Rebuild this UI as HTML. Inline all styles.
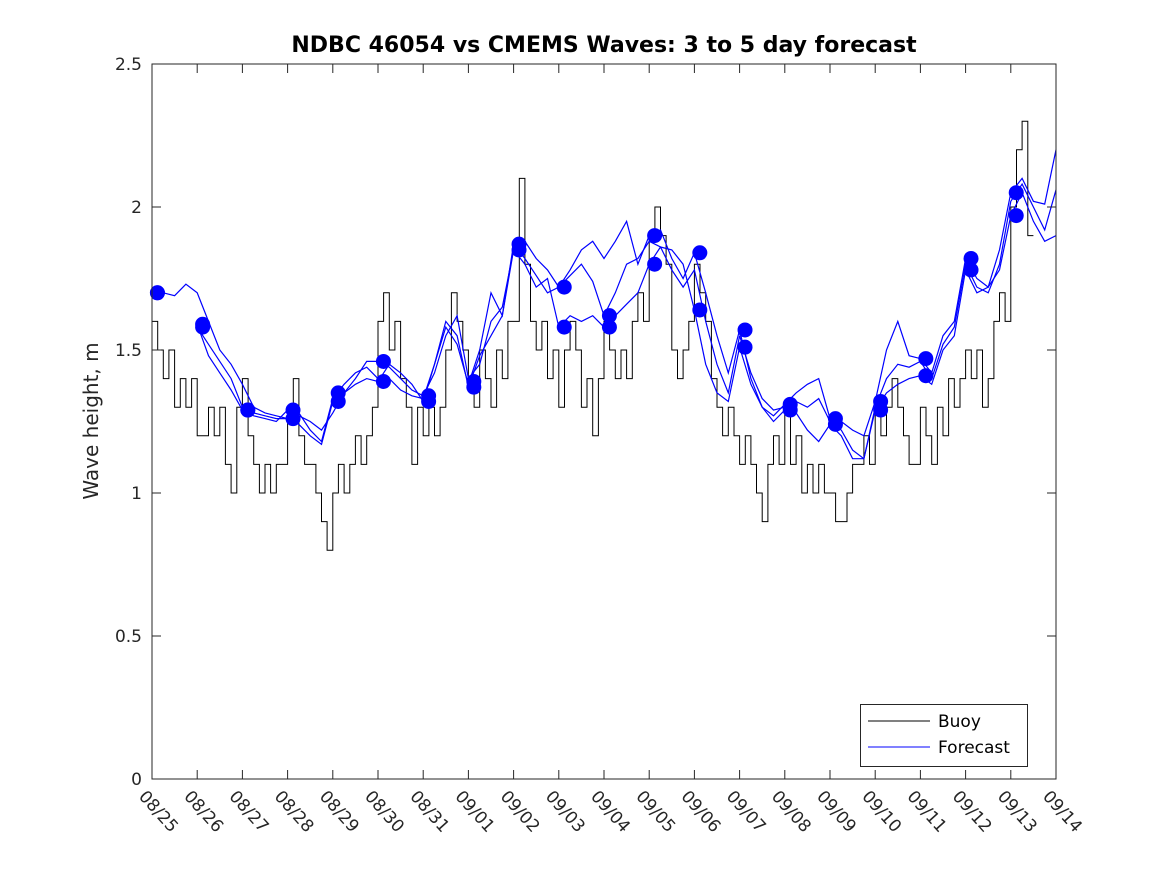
<!DOCTYPE html>
<html><head><meta charset="utf-8"><style>
body{margin:0;background:#fff;}
svg text{font-family:"DejaVu Sans","Liberation Sans",sans-serif;fill:#262626;}
</style></head><body>
<svg id="chart" width="1167" height="875" xmlns="http://www.w3.org/2000/svg">
<rect width="1167" height="875" fill="#fff"/>
<text x="604" y="52" text-anchor="middle" font-size="22" font-weight="bold" style="fill:#000">NDBC 46054 vs CMEMS Waves: 3 to 5 day forecast</text>
<text transform="translate(98,421) rotate(-90)" text-anchor="middle" font-size="20">Wave height, m</text>
<g id="plot"></g>
<rect x="152" y="64" width="904" height="715" fill="none" stroke="#262626" stroke-width="1"/>
<g>
<rect x="860.5" y="704.5" width="167" height="62" fill="#fff" stroke="#262626"/>
<line x1="868" y1="721" x2="930" y2="721" stroke="#000"/>
<text x="938" y="727" font-size="17" style="fill:#000">Buoy</text>
<line x1="868" y1="747" x2="930" y2="747" stroke="#00f"/>
<text x="938" y="753" font-size="17" style="fill:#000">Forecast</text>
</g>
</svg>
<script>
const xTickLabels=["08/25","08/26","08/27","08/28","08/29","08/30","08/31","09/01","09/02","09/03","09/04","09/05","09/06","09/07","09/08","09/09","09/10","09/11","09/12","09/13","09/14"];
const yTicks=[0,0.5,1,1.5,2,2.5];
const yTickLabels=["0","0.5","1","1.5","2","2.5"];
const buoyStep=0.125;
const buoy=[1.6,1.5,1.4,1.5,1.3,1.4,1.3,1.4,
1.2,1.2,1.3,1.2,1.3,1.1,1.0,1.3,
1.4,1.2,1.1,1.0,1.1,1.0,1.1,1.1,
1.3,1.4,1.2,1.1,1.1,1.0,0.9,0.8,
1.0,1.1,1.0,1.1,1.2,1.1,1.2,1.3,
1.6,1.7,1.5,1.6,1.4,1.3,1.1,1.3,
1.2,1.3,1.2,1.3,1.5,1.7,1.6,1.5,
1.4,1.3,1.5,1.4,1.3,1.5,1.4,1.6,
1.6,2.1,1.8,1.6,1.5,1.6,1.4,1.5,
1.3,1.5,1.6,1.5,1.3,1.4,1.2,1.4,
1.6,1.5,1.4,1.5,1.4,1.6,1.7,1.6,
1.9,2.0,1.9,1.8,1.5,1.4,1.5,1.6,
1.8,1.7,1.6,1.4,1.3,1.2,1.3,1.2,
1.1,1.2,1.1,1.0,0.9,1.1,1.2,1.1,
1.3,1.1,1.2,1.0,1.1,1.0,1.1,1.0,
1.0,0.9,0.9,1.0,1.1,1.1,1.2,1.1,
1.3,1.2,1.3,1.4,1.3,1.2,1.1,1.1,
1.3,1.2,1.1,1.3,1.2,1.4,1.3,1.4,
1.5,1.4,1.5,1.3,1.4,1.6,1.7,1.6,
2.0,2.2,2.3,1.9];
const fcStep=0.25;
const forecast1=[1.70,1.70,1.69,1.73,1.70,1.60,1.50,1.45,1.38,1.30,1.28,1.27,1.26,1.27,1.25,1.22,1.28,1.35,1.40,1.46,1.46,1.44,1.40,1.36,1.34,1.42,1.55,1.62,1.40,1.45,1.60,1.65,1.85,1.88,1.82,1.78,1.72,1.78,1.85,1.88,1.82,1.88,1.95,1.80,1.90,1.92,1.82,1.75,1.84,1.70,1.55,1.42,1.57,1.40,1.30,1.27,1.31,1.35,1.38,1.40,1.26,1.25,1.22,1.20,1.32,1.50,1.60,1.48,1.47,1.42,1.55,1.60,1.82,1.75,1.72,1.85,2.05,2.10,2.02,2.01,2.20];
const forecast2=[null,null,null,null,1.58,1.52,1.46,1.40,1.30,1.28,1.27,1.26,1.26,1.24,1.20,1.17,1.32,1.35,1.38,1.40,1.39,1.45,1.42,1.38,1.32,1.45,1.60,1.55,1.37,1.48,1.55,1.62,1.85,1.80,1.72,1.75,1.58,1.62,1.60,1.62,1.58,1.62,1.66,1.70,1.80,1.86,1.85,1.80,1.64,1.45,1.35,1.32,1.51,1.38,1.30,1.25,1.29,1.28,1.22,1.18,1.24,1.20,1.12,1.12,1.29,1.35,1.38,1.40,1.41,1.38,1.50,1.55,1.78,1.70,1.72,1.78,1.97,2.05,1.95,1.88,1.90];
const forecast3=[null,null,null,null,1.59,1.48,1.42,1.36,1.29,1.27,1.26,1.25,1.29,1.28,1.22,1.18,1.33,1.38,1.42,1.44,1.40,1.40,1.36,1.34,1.33,1.45,1.58,1.52,1.38,1.50,1.70,1.62,1.87,1.82,1.76,1.70,1.72,1.76,1.80,1.74,1.62,1.70,1.80,1.82,1.88,1.86,1.78,1.72,1.78,1.60,1.45,1.35,1.55,1.42,1.33,1.29,1.30,1.32,1.30,1.33,1.25,1.22,1.15,1.12,1.30,1.40,1.45,1.44,1.46,1.40,1.52,1.58,1.80,1.72,1.70,1.80,2.02,2.08,2.00,1.92,2.06];
const dotDays=[0.12,1.12,2.12,3.12,4.12,5.12,6.12,7.12,8.12,9.12,10.12,11.12,12.12,13.12,14.12,15.12,16.12,17.12,18.12,19.12];
const dotsA=[1.70,1.59,1.29,1.29,1.35,1.46,1.34,1.39,1.87,1.72,1.62,1.90,1.84,1.57,1.31,1.26,1.32,1.47,1.82,2.05];
const dotsB=[1.70,1.58,1.29,1.26,1.32,1.39,1.32,1.37,1.85,1.58,1.58,1.80,1.64,1.51,1.29,1.24,1.29,1.41,1.78,1.97];

const X0=152,X1=1056,Y0=779,Y1=64;
const xs=d=>X0+(X1-X0)*d/20;
const ys=v=>Y0-(Y0-Y1)*v/2.5;
const NS="http://www.w3.org/2000/svg";
const svg=document.getElementById('chart');
const plot=document.getElementById('plot');
function mk(t,a,p){const e=document.createElementNS(NS,t);for(const k in a)e.setAttribute(k,a[k]);(p||svg).appendChild(e);return e;}

yTicks.forEach((v,i)=>{
  const y=ys(v);
  mk('line',{x1:X0,y1:y,x2:X0+9,y2:y,stroke:'#262626'});
  mk('line',{x1:X1,y1:y,x2:X1-9,y2:y,stroke:'#262626'});
  const t=mk('text',{x:X0-10,y:y+6,'text-anchor':'end','font-size':'17'});
  t.textContent=yTickLabels[i];
  
  
});
xTickLabels.forEach((s,i)=>{
  const x=xs(i);
  mk('line',{x1:x,y1:Y0,x2:x,y2:Y0-9,stroke:'#262626'});
  mk('line',{x1:x,y1:Y1,x2:x,y2:Y1+9,stroke:'#262626'});
  const t=mk('text',{transform:`translate(${x-14},${Y0+18}) rotate(48)`,'font-size':'17'});
  t.textContent=s;
  
  
});
let d='';
buoy.forEach((v,i)=>{const x=xs(i*buoyStep),y=ys(v);d+=(i?`H${x.toFixed(1)}V${y.toFixed(1)}`:`M${x.toFixed(1)},${y.toFixed(1)}`);});
d+=`H${xs(buoy.length*buoyStep).toFixed(1)}`;
const bl=mk('path',{d:d,fill:'none',stroke:'#000','stroke-width':'1'},plot);


[forecast1,forecast2,forecast3].forEach((arr,k)=>{
  let p='',pen=false;
  arr.forEach((v,i)=>{if(v==null){pen=false;return;}const x=xs(i*fcStep),y=ys(v);p+=(pen?'L':'M')+x.toFixed(1)+','+y.toFixed(1);pen=true;});
  const fl=mk('path',{d:p,fill:'none',stroke:'#00f','stroke-width':'1.2'},plot);
  
  
});
[dotsA,dotsB].forEach(arr=>{
  arr.forEach((v,i)=>{
    const c=mk('circle',{cx:xs(dotDays[i]),cy:ys(v),r:7.5,fill:'#00f'},plot);
    
    
  });
});
</script>
</body></html>
